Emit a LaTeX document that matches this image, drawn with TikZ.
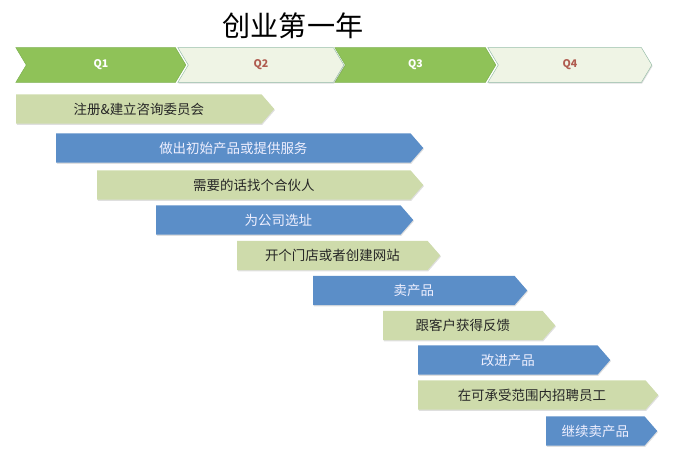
\documentclass[tikz,border=0pt]{standalone}
\usepackage{fontspec}
\setmainfont{Noto Sans CJK SC}
\usetikzlibrary{shapes.symbols,shadows}
\definecolor{LeafGreen}{RGB}{143,194,88}
\definecolor{LeafEdge}{RGB}{122,176,78}
\definecolor{PaleGreen}{RGB}{239,244,229}
\definecolor{PaleEdge}{RGB}{150,190,168}
\definecolor{SageBar}{RGB}{206,219,171}
\definecolor{SteelBar}{RGB}{91,142,200}
\definecolor{QuarterRed}{RGB}{176,92,80}
\tikzset{
  quarter/.style={signal,signal from=west,signal to=east,signal pointer angle=118,
    anchor=west,minimum height=1.04cm,inner sep=0pt,font=\fontsize{9}{10}\selectfont\bfseries},
  darkq/.style={quarter,fill=LeafGreen,draw=LeafEdge,text=white},
  lightq/.style={quarter,fill=PaleGreen,draw=PaleEdge,text=QuarterRed,
    drop shadow={opacity=0.25,shadow xshift=0.6pt,shadow yshift=-1pt}},
  task/.style={signal,signal to=east,signal pointer angle=98,anchor=west,
    minimum height=0.88cm,inner sep=0pt,font=\fontsize{11.5}{13}\selectfont,
    drop shadow={opacity=0.25,shadow xshift=0.6pt,shadow yshift=-1pt}},
  sagetask/.style={task,fill=SageBar,text=black!85},
  steeltask/.style={task,fill=SteelBar,text=white!94!blue}
}
\begin{document}
\begin{tikzpicture}[x=0.03cm,y=-0.03cm]
  \useasboundingbox (0,0) rectangle (680,464);
  \node[font=\fontsize{24}{26}\selectfont] (title) at (293,26) {创业第一年};

  % quarters
  \node[lightq,minimum width=4.92cm] (q4) at (498,65) {Q4};
  \node[darkq,minimum width=4.83cm] (q3) at (345,65) {Q3};
  \node[lightq,minimum width=4.98cm] (q2) at (188,65) {Q2};
  \node[darkq,minimum width=5.1cm] (q1) at (26,65) {Q1};

  % tasks
  \node[sagetask,minimum width=7.74cm] (register) at (16,109) {注册\&建立咨询委员会};
  \node[steeltask,minimum width=11.01cm] (product) at (56,148) {做出初始产品或提供服务};
  \node[sagetask,minimum width=9.78cm] (partner) at (97,185) {需要的话找个合伙人};
  \node[steeltask,minimum width=7.71cm] (location) at (156,220) {为公司选址};
  \node[sagetask,minimum width=6.09cm] (website) at (237,255.5) {开个门店或者创建网站};
  \node[steeltask,minimum width=6.42cm] (sell) at (313,290.5) {卖产品};
  \node[sagetask,minimum width=5.16cm] (feedback) at (383,325.5) {跟客户获得反馈};
  \node[steeltask,minimum width=5.76cm] (improve) at (418,360) {改进产品};
  \node[sagetask,minimum width=7.2cm] (hire) at (418,395) {在可承受范围内招聘员工};
  \node[steeltask,minimum width=3.33cm] (sellmore) at (546,431) {继续卖产品};
\end{tikzpicture}
\end{document}
